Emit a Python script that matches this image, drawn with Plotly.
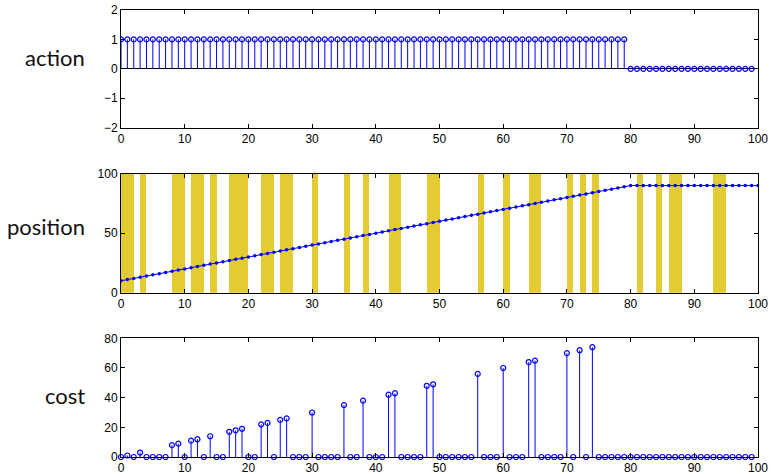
import plotly.graph_objects as go

# ---- data ----
steps = list(range(100))
pos_steps = list(range(101))
action = [
    1,1,1,1,1,1,1,1,1,1, 1,1,1,1,1,1,1,1,1,1,
    1,1,1,1,1,1,1,1,1,1, 1,1,1,1,1,1,1,1,1,1,
    1,1,1,1,1,1,1,1,1,1, 1,1,1,1,1,1,1,1,1,1,
    1,1,1,1,1,1,1,1,1,1, 1,1,1,1,1,1,1,1,1,1,
    0,0,0,0,0,0,0,0,0,0, 0,0,0,0,0,0,0,0,0,0]
position = [
    10,11,12,13,14,15,16,17,18,19, 20,21,22,23,24,25,26,27,28,29,
    30,31,32,33,34,35,36,37,38,39, 40,41,42,43,44,45,46,47,48,49,
    50,51,52,53,54,55,56,57,58,59, 60,61,62,63,64,65,66,67,68,69,
    70,71,72,73,74,75,76,77,78,79, 80,81,82,83,84,85,86,87,88,89,
    90,90,90,90,90,90,90,90,90,90, 90,90,90,90,90,90,90,90,90,90, 90]
bad_cells = [0,1,3,8,9,11,12,14,17,18,19,22,23,25,26,30,35,38,42,43,48,49,
             56,60,64,65,70,72,74,81,84,86,87,93,94]
cost = [
    0,1,0,3,0,0,0,0,8,9, 0,11,12,0,14,0,0,17,18,19,
    0,0,22,23,0,25,26,0,0,0, 30,0,0,0,0,35,0,0,38,0,
    0,0,42,43,0,0,0,0,48,49, 0,0,0,0,0,0,56,0,0,0,
    60,0,0,0,64,65,0,0,0,0, 70,0,72,0,74,0,0,0,0,0,
    0,0,0,0,0,0,0,0,0,0, 0,0,0,0,0,0,0,0,0,0]
xticks = [0,10,20,30,40,50,60,70,80,90,100]

BLUE = "#0000ff"
YELLOW = "#e3cb33"

def stems(xs, ys):
    sx, sy = [], []
    for x, y in zip(xs, ys):
        if y != 0:
            sx += [x, x, None]
            sy += [0, y, None]
    return sx, sy

fig = go.Figure()

# action
sx, sy = stems(steps, action)
fig.add_trace(go.Scatter(x=sx, y=sy, mode="lines", line=dict(color=BLUE, width=1),
                         xaxis="x", yaxis="y", hoverinfo="skip"))
fig.add_trace(go.Scatter(x=steps, y=action, mode="markers",
                         marker=dict(symbol="circle-open", size=5, color=BLUE, line=dict(width=1.2)),
                         xaxis="x", yaxis="y"))

# position
fig.add_trace(go.Bar(x=[c + 0.5 for c in bad_cells], y=[100]*len(bad_cells), width=1,
                     marker=dict(color=YELLOW, line=dict(width=0)),
                     xaxis="x2", yaxis="y2"))
fig.add_trace(go.Scatter(x=pos_steps, y=position, mode="lines+markers",
                         line=dict(color=BLUE, width=1),
                         marker=dict(size=3.5, color=BLUE),
                         xaxis="x2", yaxis="y2"))

# cost
sx, sy = stems(steps, cost)
fig.add_trace(go.Scatter(x=sx, y=sy, mode="lines", line=dict(color=BLUE, width=1),
                         xaxis="x3", yaxis="y3", hoverinfo="skip"))
fig.add_trace(go.Scatter(x=steps, y=cost, mode="markers",
                         marker=dict(symbol="circle-open", size=5, color=BLUE, line=dict(width=1.2)),
                         xaxis="x3", yaxis="y3", cliponaxis=False))

tickfont = dict(family="Liberation Sans, Arial, sans-serif", size=12, color="black")
ax_common = dict(showline=True, linecolor="black", linewidth=1, mirror="ticks",
                 ticks="inside", ticklen=4, tickcolor="black", showgrid=False,
                 tickfont=tickfont, automargin=False)

def xax(anchor):
    return dict(ax_common, range=[0, 100], tickvals=xticks, anchor=anchor, zeroline=False)

fig.update_layout(
    width=771, height=474,
    margin=dict(l=121, r=13, t=10, b=17),
    plot_bgcolor="white", paper_bgcolor="white",
    showlegend=False, bargap=0,
    xaxis=xax("y"), xaxis2=xax("y2"), xaxis3=xax("y3"),
    yaxis=dict(ax_common, domain=[0.7367, 1.0], range=[-2, 2], tickvals=[-2, -1, 0, 1, 2],
               zeroline=True, zerolinecolor="black", zerolinewidth=1, anchor="x"),
    yaxis2=dict(ax_common, domain=[0.3676, 0.6338], range=[0, 100], tickvals=[0, 50, 100],
                zeroline=False, anchor="x2"),
    yaxis3=dict(ax_common, domain=[0.0, 0.2655], range=[0, 80], tickvals=[0, 20, 40, 60, 80],
                zeroline=False, anchor="x3"),
)

labfont = dict(family="Lato, sans-serif", size=22, color="#111111")
for txt, yc in [("action", 0.893), ("position", 0.515), ("cost", 0.137)]:
    fig.add_annotation(text=txt, xref="paper", yref="paper", x=-0.0534, y=yc,
                       xanchor="right", yanchor="middle", showarrow=False, font=labfont)

fig.write_html("out.html")
